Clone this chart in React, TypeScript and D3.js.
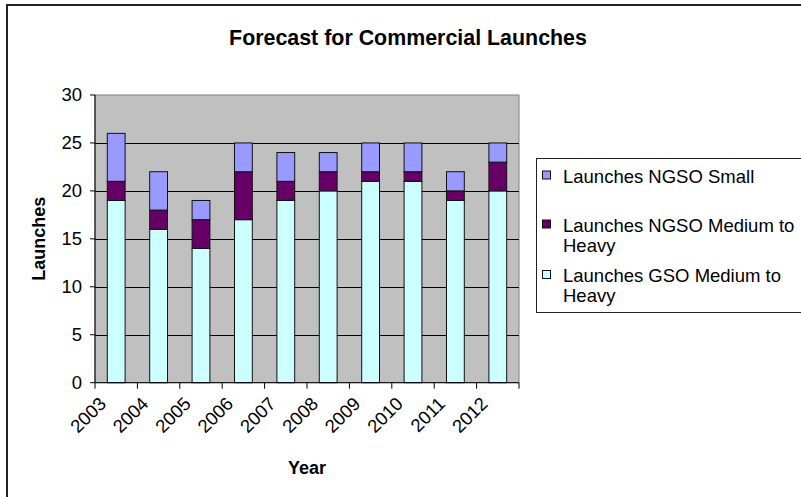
import React from "react";
import * as d3 from "d3";

const years = ["2003", "2004", "2005", "2006", "2007", "2008", "2009", "2010", "2011", "2012"];
const gsoMediumHeavy = [19, 16, 14, 17, 19, 20, 21, 21, 19, 20];
const ngsoMediumHeavy = [2, 2, 3, 5, 2, 2, 1, 1, 1, 3];
const ngsoSmall = [5, 4, 2, 3, 3, 2, 3, 3, 2, 2];
const yTicks = [0, 5, 10, 15, 20, 25, 30];
const seriesKeys = ["gso", "ngsoMed", "ngsoSmall"];
const seriesColors: Record<string, string> = { gso: "#CCFFFF", ngsoMed: "#660066", ngsoSmall: "#9999FF" };
const legendItems = [
  { key: "ngsoSmall", lines: ["Launches NGSO Small"] },
  { key: "ngsoMed", lines: ["Launches NGSO Medium to", "Heavy"] },
  { key: "gso", lines: ["Launches GSO Medium to", "Heavy"] },
];

const W = 801;
const H = 497;
const plot = { left: 95, right: 519, top: 95, bottom: 382.7 };
const FONT = "'Liberation Sans', Arial, sans-serif";

export default function App() {
  const rows = years.map((y, i) => ({
    year: y,
    gso: gsoMediumHeavy[i],
    ngsoMed: ngsoMediumHeavy[i],
    ngsoSmall: ngsoSmall[i],
  }));
  const stacked = d3.stack<any>().keys(seriesKeys)(rows);
  const x = d3.scaleBand().domain(years).range([plot.left, plot.right]).paddingInner(0.58).paddingOuter(0.29);
  const y = d3.scaleLinear().domain([0, 30]).range([plot.bottom, plot.top]);
  const step = x.step();
  const boundaries = d3.range(years.length + 1).map((i) => plot.left + i * step);

  return (
    <svg width={W} height={H} style={{ position: "absolute", left: 0, top: 0, background: "#fff" }} fontFamily={FONT}>
      <rect x={7} y={5} width={W + 20} height={H + 20} fill="#fff" stroke="#222" strokeWidth={2} />
      <text x={408} y={45} textAnchor="middle" fontWeight="bold" fontSize={21.4}>
        Forecast for Commercial Launches
      </text>
      <rect x={plot.left} y={plot.top} width={plot.right - plot.left} height={plot.bottom - plot.top} fill="#C0C0C0" stroke="#808080" strokeWidth={1} />
      {yTicks.filter((t) => t > 0 && t < 30).map((t) => (
        <line key={t} x1={plot.left} x2={plot.right} y1={Math.round(y(t)) + 0.5} y2={Math.round(y(t)) + 0.5} stroke="#000" strokeWidth={1} />
      ))}
      {stacked.map((s) => (
        <g key={s.key} fill={seriesColors[s.key]}>
          {s.map((d, i) => (
            <rect
              key={i}
              x={(x(years[i]) as number)}
              y={y(d[1])}
              width={x.bandwidth()}
              height={y(d[0]) - y(d[1])}
              stroke="#111"
              strokeWidth={1}
            />
          ))}
        </g>
      ))}
      <line x1={plot.left} x2={plot.left} y1={plot.top} y2={plot.bottom} stroke="#000" />
      <line x1={plot.left} x2={plot.right} y1={plot.bottom} y2={plot.bottom} stroke="#000" />
      {yTicks.map((t) => (
        <g key={t}>
          <line x1={plot.left - 5} x2={plot.left} y1={y(t)} y2={y(t)} stroke="#000" />
          <text x={82} y={y(t)} dy="0.35em" textAnchor="end" fontSize={18.5}>
            {t}
          </text>
        </g>
      ))}
      {boundaries.map((b, i) => (
        <line key={i} x1={b} x2={b} y1={plot.bottom} y2={plot.bottom + 6} stroke="#000" />
      ))}
      {years.map((yr) => {
        const cx = (x(yr) as number) + x.bandwidth() / 2;
        const ax = cx - 9;
        const ay = 405;
        return (
          <text key={yr} x={ax} y={ay} textAnchor="end" fontSize={18.5} transform={`rotate(-45 ${ax} ${ay})`}>
            {yr}
          </text>
        );
      })}
      <text x={(plot.left + plot.right) / 2} y={474} textAnchor="middle" fontWeight="bold" fontSize={18}>
        Year
      </text>
      <text x={45} y={(plot.top + plot.bottom) / 2} textAnchor="middle" fontWeight="bold" fontSize={18} transform={`rotate(-90 45 ${(plot.top + plot.bottom) / 2})`}>
        Launches
      </text>
      <rect x={536.5} y={158.5} width={300} height={154} fill="#fff" stroke="#222" strokeWidth={1} />
      {legendItems.map((it, i) => {
        const baselines = [[182.5], [231.5, 251.5], [282, 302]][i];
        return (
          <g key={it.key}>
            <rect x={542.5} y={baselines[0] - 11.5} width={8} height={8} fill={seriesColors[it.key]} stroke="#111" strokeWidth={1} />
            {it.lines.map((ln, j) => (
              <text key={j} x={563} y={baselines[j]} fontSize={18.5}>
                {ln}
              </text>
            ))}
          </g>
        );
      })}
    </svg>
  );
}
